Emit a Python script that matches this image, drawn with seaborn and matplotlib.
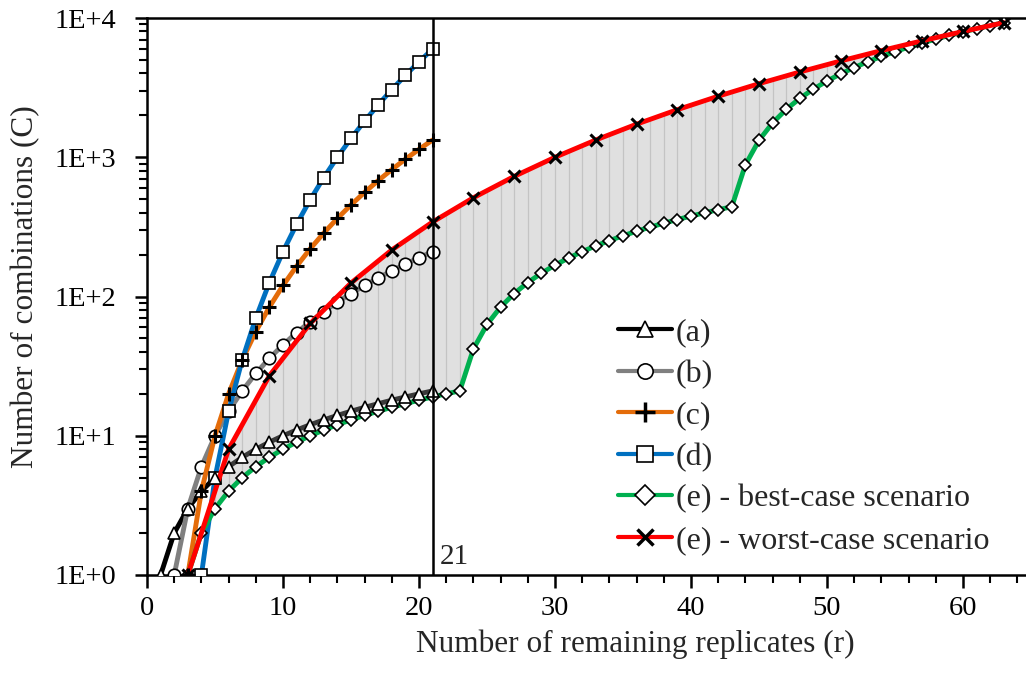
import numpy as np
import pandas as pd
import matplotlib
matplotlib.use("Agg")
import matplotlib.pyplot as plt
from matplotlib.lines import Line2D
import seaborn as sns

# number of remaining replicates (r) and number of combinations (C)
r_a = list(range(1, 22))
c_a = [1, 2, 3, 4, 5, 6, 7, 8, 9, 10, 11, 12, 13, 14, 15, 16, 17, 18, 19, 20, 21]

r_b = list(range(2, 22))
c_b = [1, 3, 6, 10, 15, 21, 28, 36, 45, 55, 66, 78, 91, 105, 120, 136, 153, 171, 190, 210]

r_c = list(range(3, 22))
c_c = [1, 4, 10, 20, 35, 56, 84, 120, 165, 220, 286, 364, 455, 560, 680, 816, 969, 1140, 1330]

r_d = list(range(4, 22))
c_d = [1, 5, 15, 35, 70, 126, 210, 330, 495, 715, 1001, 1365, 1820, 2380, 3060, 3876,
       4845, 5985]

r_e = list(range(3, 64))
c_best = [1, 2, 3, 4, 5, 6, 7, 8, 9, 10, 11, 12, 13, 14, 15, 16, 17, 18, 19, 20, 21,
          42, 63, 84, 105, 126, 147, 168, 189, 210, 231, 252, 273, 294, 315, 336, 357,
          378, 399, 420, 441,
          882, 1323, 1764, 2205, 2646, 3087, 3528, 3969, 4410, 4851, 5292, 5733, 6174,
          6615, 7056, 7497, 7938, 8379, 8820, 9261]
c_worst = [1, 2, 4, 8, 12, 18, 27, 36, 48, 64, 80, 100, 125, 150, 180, 216, 252, 294,
           343, 392, 448, 512, 576, 648, 729, 810, 900, 1000, 1100, 1210, 1331, 1452,
           1584, 1728, 1872, 2028, 2197, 2366, 2548, 2744, 2940, 3150, 3375, 3600, 3840,
           4096, 4352, 4624, 4913, 5202, 5508, 5832, 6156, 6498, 6859, 7220, 7600, 8000,
           8400, 8820, 9261]

labels = ["(a)", "(b)", "(c)", "(d)", "(e) - best-case scenario", "(e) - worst-case scenario"]
colors = ["black", "#808080", "#E46C0A", "#0070C0", "#00B050", "#FF0000"]
markers = ["^", "o", "P", "s", "D", "X"]
r_cut = 21
y_ticks = [1, 10, 100, 1000, 10000]
y_ticklabels = ["1E+0", "1E+1", "1E+2", "1E+3", "1E+4"]

sns.set_theme(style="ticks")
plt.rcParams["font.family"] = ["Liberation Serif", "DejaVu Serif"]
plt.rcParams["mathtext.default"] = "regular"

fig = plt.figure(figsize=(10.26, 6.82), dpi=100)
ax = fig.add_axes([147 / 1026, 107 / 682, 884 / 1026, 557 / 682])

# shaded band between best and worst case, with thin drop lines
ax.fill_between(r_e, c_best, c_worst, color="#e0e0e0", lw=0, zorder=1)
ax.vlines(r_e, c_best, c_worst, color="#c4c4c4", lw=0.9, zorder=1)

lw = 3.5
mk = dict(markerfacecolor="white", markeredgecolor="black", markeredgewidth=1.2)

# (a): line is darkened where it sits in the shaded band
sns.lineplot(x=r_a[:5], y=c_a[:5], color=colors[0], lw=lw, ax=ax, zorder=3)
sns.lineplot(x=r_a[4:], y=c_a[4:], color="#3a3a3a", lw=lw, ax=ax, zorder=3)
ax.plot(r_a, c_a, ls="none", marker="^", markersize=9, zorder=4, **mk)

sns.lineplot(x=r_b, y=c_b, color=colors[1], lw=lw, marker="o", markersize=9,
             ax=ax, zorder=3, **mk)
sns.lineplot(x=r_c, y=c_c, color=colors[2], lw=lw, ax=ax, zorder=3)
ax.plot(r_c, c_c, ls="none", marker="+", markersize=10, markeredgewidth=2.2,
        color="black", zorder=4)
sns.lineplot(x=r_d, y=c_d, color=colors[3], lw=lw, marker="s", markersize=8.5,
             ax=ax, zorder=3, **mk)
sns.lineplot(x=r_e, y=c_best, color=colors[4], lw=lw, marker="D", markersize=6.5,
             ax=ax, zorder=3, **mk)
sns.lineplot(x=r_e, y=c_worst, color=colors[5], lw=lw, ax=ax, zorder=3)
ax.plot(r_e[::3], c_worst[::3], ls="none", marker="x", markersize=8,
        markeredgewidth=2.2, color="black", zorder=4)

ax.axvline(r_cut, color="black", lw=1.8, zorder=5)
ax.text(r_cut + 0.5, 1.08, str(r_cut), fontsize=21, ha="left", va="bottom")

ax.set_yscale("log")
ax.set_ylim(1, 10000)
ax.set_xlim(0, 65)
ax.set_yticks(y_ticks)
ax.set_yticklabels(y_ticklabels)
ax.set_xticks(np.arange(0, 61, 10))
ax.set_xticks(np.arange(0, 65, 2), minor=True)

for s in ax.spines.values():
    s.set_linewidth(1.8)
    s.set_color("black")
ax.tick_params(axis="both", which="major", direction="out", length=9, width=1.8,
               labelsize=20.5, colors="black")
ax.tick_params(axis="both", which="minor", direction="out", length=5.5, width=1.5,
               colors="black")
ax.tick_params(axis="y", which="major", pad=13)
ax.tick_params(axis="x", which="major", pad=6)

ax.set_xlabel("Number of remaining replicates (r)", fontsize=22.5)
ax.set_ylabel("Number of combinations (C)", fontsize=22.5)
ax.xaxis.set_label_coords(0.552, -0.097)
ax.yaxis.set_label_coords(-0.121, 0.517)
ax.grid(False)

handles = []
for lab, col, m in zip(labels, colors, markers):
    if m == "P":
        h = Line2D([], [], color=col, lw=3, marker="+", markersize=14,
                   markeredgecolor="black", markeredgewidth=2.5)
    elif m == "X":
        h = Line2D([], [], color=col, lw=3, marker="x", markersize=12,
                   markeredgecolor="black", markeredgewidth=2.5)
    else:
        h = Line2D([], [], color=col, lw=3, marker=m,
                   markersize=11 if m != "D" else 10, **mk)
    handles.append(h)
leg = ax.legend(handles, labels, loc="upper left", bbox_to_anchor=(618 / 1026, 1 - 318 / 682),
                bbox_transform=fig.transFigure, frameon=False, fontsize=23,
                handlelength=1.7, handletextpad=0.1, labelspacing=0.38, borderpad=0,
                borderaxespad=0)

fig.savefig("out.png", dpi=100)
